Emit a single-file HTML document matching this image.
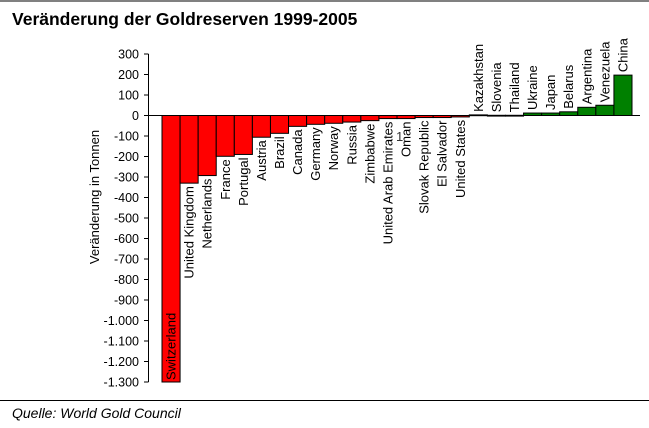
<!DOCTYPE html>
<html><head><meta charset="utf-8">
<style>
body{margin:0;background:#fff;font-family:"Liberation Sans",Arial,sans-serif;}
svg{display:block}
</style></head><body>
<svg id="c" width="649" height="428" xmlns="http://www.w3.org/2000/svg">
<line x1="0" y1="1" x2="649" y2="1" stroke="#000" stroke-width="1"/>
<text x="12" y="25" font-size="17.5" font-weight="bold" font-family="Liberation Sans, sans-serif">Veränderung der Goldreserven 1999-2005</text>
<line x1="0" y1="400.5" x2="649" y2="400.5" stroke="#000" stroke-width="1"/>
<text x="12" y="418" font-size="14" font-style="italic" font-family="Liberation Sans, sans-serif">Quelle: World Gold Council</text>
<text transform="translate(99,197) rotate(-90)" text-anchor="middle" font-size="13" font-family="Liberation Sans, sans-serif">Veränderung in Tonnen</text>
<g id="plot"></g>
</svg>
<script>
const categories=["Switzerland","United Kingdom","Netherlands","France","Portugal","Austria","Brazil","Canada","Germany","Norway","Russia","Zimbabwe","United Arab Emirates","Oman","Slovak Republic","El Salvador","United States","Kazakhstan","Slovenia","Thailand","Ukraine","Japan","Belarus","Argentina","Venezuela","China"];
const values=[-1300,-330,-293,-199,-190,-106,-87,-53,-43,-38,-32,-25,-15,-15,-10,-10,-7,3,1,1,12,12,18,40,50,197];
const yTicks=[300,200,100,0,-100,-200,-300,-400,-500,-600,-700,-800,-900,-1000,-1100,-1200,-1300];
const yTickLabels=["300","200","100","0","-100","-200","-300","-400","-500","-600","-700","-800","-900","-1.000","-1.100","-1.200","-1.300"];

const NS="http://www.w3.org/2000/svg";
const g=document.getElementById('plot');
const y0=115.5, k=0.205;
function y(v){return y0 - v*k;}
const left=162, bw=(632-162)/categories.length;
function x(i){return left+i*bw;}
function mk(t,a){const e=document.createElementNS(NS,t);for(const n in a)e.setAttribute(n,a[n]);g.appendChild(e);return e;}

const ax=mk('line',{x1:148.5,y1:y(300),x2:148.5,y2:y(-1300),stroke:'#000'});


yTicks.forEach((t,i)=>{
  const tk=mk('line',{x1:144,y1:y(t),x2:148.5,y2:y(t),stroke:'#000'});
  
  
  const tl=mk('text',{x:139,y:y(t)+4.5,'text-anchor':'end','font-size':12.5,'font-family':'Liberation Sans, sans-serif'});
  tl.textContent=yTickLabels[i];
  
  
});

categories.forEach((c,i)=>{
  const v=values[i];
  const top=Math.min(y(v),y(0)), h=Math.max(Math.abs(y(v)-y(0)),0.8);
  const r=mk('rect',{x:x(i),y:top,width:bw,height:h,fill:v<0?'#ff0000':'#008000',stroke:'#000','stroke-width':1});
  
  
  const cx=x(i)+bw/2+4.5;
  let t;
  const fs=13;
  if(v<0){
    if(i===0){
      t=mk('text',{transform:`translate(${cx},${y(v)-2}) rotate(-90)`,'font-size':fs,'font-family':'Liberation Sans, sans-serif'});
    }else{
      t=mk('text',{transform:`translate(${cx},${y(v)+3}) rotate(-90)`,'text-anchor':'end','font-size':fs,'font-family':'Liberation Sans, sans-serif'});
    }
  }else{
    t=mk('text',{transform:`translate(${cx},${y(v)-3}) rotate(-90)`,'font-size':fs,'font-family':'Liberation Sans, sans-serif'});
  }
  t.textContent=c;
  
  
});
const zl=mk('line',{x1:148.5,y1:y(0),x2:640,y2:y(0),stroke:'#000'});


const one=mk('text',{x:396,y:141,'font-size':13,fill:'#333','font-family':'Liberation Sans, sans-serif'});
one.textContent='1';


</script>
</body></html>
